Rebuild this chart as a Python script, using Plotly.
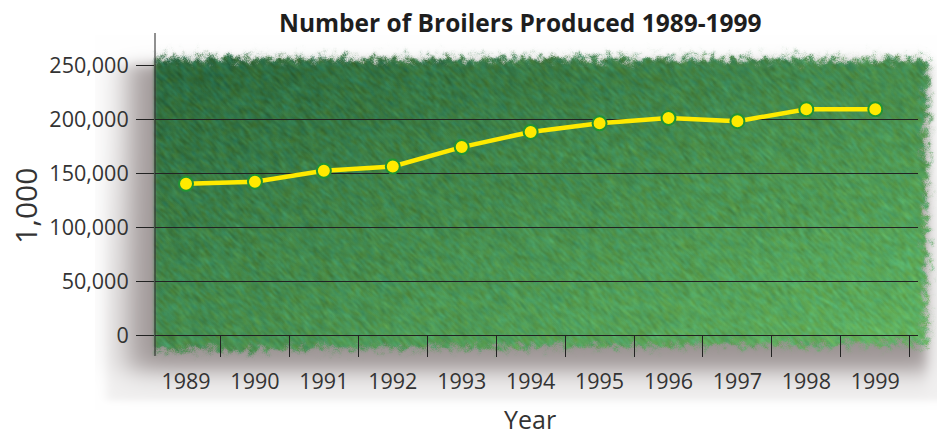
import base64
import struct
import zlib

import numpy as np
import plotly.graph_objects as go

years = ["1989", "1990", "1991", "1992", "1993", "1994", "1995", "1996", "1997", "1998", "1999"]
broilers = [140000, 142000, 152000, 156000, 174000, 188000, 196000, 201000, 198000, 209000, 209000]
y_ticks = [0, 50000, 100000, 150000, 200000, 250000]

W, H = 937, 435
PL, PR, PT, PB = 155, 918, 65, 335  # plot area in pixels


def png_uri(rgb):
    h, w, _ = rgb.shape
    raw = b"".join(b"\x00" + rgb[r].tobytes() for r in range(h))

    def chunk(tag, data):
        c = struct.pack(">I", len(data)) + tag + data
        return c + struct.pack(">I", zlib.crc32(tag + data) & 0xFFFFFFFF)

    png = (b"\x89PNG\r\n\x1a\n"
           + chunk(b"IHDR", struct.pack(">IIBBBBB", w, h, 8, 2, 0, 0, 0))
           + chunk(b"IDAT", zlib.compress(raw, 9))
           + chunk(b"IEND", b""))
    return "data:image/png;base64," + base64.b64encode(png).decode()


# textured green backdrop with a soft grey shadow
CX0, CX1, CY0, CY1 = 95, 937, 35, 410
X, Y = np.meshgrid(np.arange(CX0, CX1).astype(float), np.arange(CY0, CY1).astype(float))


def soft(d, s):
    return 1.0 / (1.0 + np.exp(-d / s))


def hash_noise(seed, step=1):
    xs, ys = np.floor(X / step), np.floor(Y / step)
    v = np.sin(xs * 12.9898 + ys * 78.233 + seed) * 43758.5453
    return v - np.floor(v)


def smear(base, n, dy=1):
    acc = np.zeros_like(base)
    for k in range(n):
        acc += np.roll(np.roll(base, k * dy, axis=0), k, axis=1)
    acc /= n
    return acc


def blur(a, r=1):
    acc = np.zeros_like(a)
    cnt = 0
    for dx in range(-r, r + 1):
        for dy in range(-r, r + 1):
            acc += np.roll(np.roll(a, dy, axis=0), dx, axis=1)
            cnt += 1
    return acc / cnt


def normed(a):
    return (a - a.mean()) / a.std()


img = np.ones(X.shape + (3,)) * 255.0


def paint(mask, color):
    global img
    c = np.asarray(color, dtype=float)
    m = mask[..., None]
    img = img * (1 - m) + c * m


# pale backdrop under the axis labels
paint(soft(X - 106, 3) * soft(400 - Y, 2) * soft(Y - 200, 40), (241, 240, 240))
# shadow
paint(soft(X - 128, 10) * soft(370 - Y, 7) * soft(Y - 64, 4) * soft(926 - X, 4) * 0.85,
      (140, 130, 130))

z1 = normed(blur(smear(hash_noise(1.0), 6), 1))
z2 = normed(blur(smear(hash_noise(7.0, 2), 4), 1))
ze = normed(blur(hash_noise(3.0, 3), 2))
zf = normed(hash_noise(5.0))

bottom = 350 - 7 * (X - 150) / 780
fuzz = 2.2 * ze + 1.0 * zf
green = (soft(Y - 58 + fuzz, 1.6) * soft(bottom - Y + fuzz, 1.6)
         * soft(926 - X + fuzz, 1.6) * soft(X - 154, 1.0))

t = np.clip(0.5 * (X - 150) / 780 + 0.5 * (Y - 55) / 295, 0, 1)[..., None]
c0 = np.array([42, 102, 60])
c1 = np.array([98, 180, 98])
gcol = c0 * (1 - t) + c1 * t
gcol = gcol + z1[..., None] * np.array([3, 5, 3]) + z2[..., None] * np.array([-2, 2, 6])
paint(green, (0, 0, 0))
img = img + gcol * green[..., None]

bg_src = png_uri(np.clip(img, 0, 255).astype(np.uint8))

pw, ph = PR - PL, PB - PT


def px_x(px):
    return (px - PL) / pw


def px_y(py):
    return (PB - py) / ph


font = "'Open Sans', Lato, sans-serif"
txt = "#333333"

fig = go.Figure()
fig.add_trace(go.Scatter(
    x=years, y=broilers, mode="lines+markers",
    line=dict(color="#ffea00", width=4.5),
    marker=dict(size=14, color="#ffea00", line=dict(color="#229433", width=2)),
    showlegend=False, hoverinfo="x+y",
))

fig.add_layout_image(dict(
    source=bg_src, xref="paper", yref="paper",
    x=px_x(CX0), y=px_y(CY0), sizex=(CX1 - CX0) / pw, sizey=(CY1 - CY0) / ph,
    xanchor="left", yanchor="top", sizing="stretch", layer="below",
))

# y axis line runs past the plot area on both ends
fig.add_shape(type="line", xref="paper", yref="paper",
              x0=0, x1=0, y0=px_y(356), y1=px_y(33),
              line=dict(color="#222222", width=1))

fig.add_annotation(text="<b>Number of Broilers Produced 1989-1999</b>",
                   xref="paper", yref="paper", x=px_x(520), y=px_y(22),
                   xanchor="center", yanchor="middle", showarrow=False,
                   font=dict(family=font, size=24.5, color="#1e1e1e"))
fig.add_annotation(text="1,000", xref="paper", yref="paper",
                   x=px_x(26), y=px_y(206), textangle=-90,
                   xanchor="center", yanchor="middle", showarrow=False,
                   font=dict(family=font, size=30, color=txt))
fig.add_annotation(text="Year", xref="paper", yref="paper",
                   x=px_x(530), y=px_y(419),
                   xanchor="center", yanchor="middle", showarrow=False,
                   font=dict(family=font, size=25, color=txt))

fig.update_xaxes(
    type="category", range=[-0.45, 10.62], tickson="boundaries",
    ticks="outside", ticklen=21, tickcolor="#222222", tickwidth=1,
    showline=True, linecolor="#222222", linewidth=1,
    showgrid=False, ticklabelstandoff=27,
    tickfont=dict(family=font, size=21.5, color=txt),
)
fig.update_yaxes(
    range=[0, 250000], tickvals=y_ticks, tickformat=",d",
    ticks="outside", ticklen=18, tickcolor="#222222", tickwidth=1,
    showgrid=True, gridcolor="#222222", gridwidth=1, zeroline=False,
    showline=False, ticklabelstandoff=3,
    tickfont=dict(family=font, size=21.5, color=txt),
)

fig.update_layout(
    width=W, height=H, autosize=False,
    margin=dict(l=PL, r=W - PR, t=PT, b=H - PB),
    paper_bgcolor="white", plot_bgcolor="rgba(0,0,0,0)",
)

fig.write_html("out.html", config={"displayModeBar": False},
               post_script="document.body.style.margin='0';")
